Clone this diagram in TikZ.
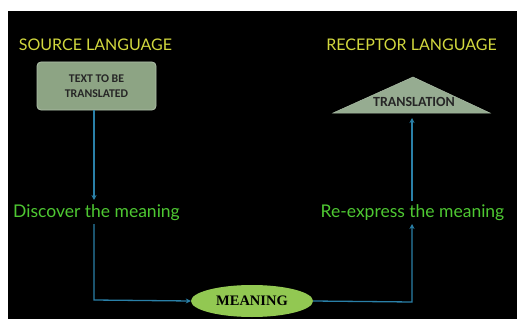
\documentclass[tikz,border=0pt]{standalone}
\usepackage{fontspec}
\setmainfont{Lato}
\newfontfamily\boxfont{Carlito}
\newfontfamily\serifb{Liberation Serif}
\usetikzlibrary{arrows.meta,shapes.geometric}
\definecolor{hdr}{RGB}{210,216,62}
\definecolor{grn}{RGB}{78,200,50}
\definecolor{boxfill}{RGB}{141,164,132}
\definecolor{trifill}{RGB}{150,172,145}
\definecolor{ellfill}{RGB}{146,200,82}
\definecolor{lnk}{RGB}{42,128,168}
\tikzset{
  header/.style={text=hdr,font=\fontsize{16}{18}\selectfont,inner sep=0pt},
  action/.style={text=grn,font=\fontsize{17.5}{20}\selectfont,inner sep=1pt},
  conn/.style={draw=lnk,line width=1.3pt},
  tip/.style={-{Stealth[length=5pt,width=5pt]}},
  boxtext/.style={font=\boxfont\bfseries\fontsize{11.8}{15}\selectfont,text=black!85},
}
\begin{document}
\begin{tikzpicture}[x=1pt,y=-1pt]
\useasboundingbox (0,0) rectangle (517,329);
\fill[black] (8,11) rectangle (517,319);
\node[header] (srchdr) at (95.5,45) {SOURCE LANGUAGE};
\node[header] (rechdr) at (411.5,45) {RECEPTOR LANGUAGE};
\node[draw=boxfill!70!white,fill=boxfill,rounded corners=4pt,line width=0.8pt,
      minimum width=119pt,minimum height=48pt,inner sep=0pt,align=center,boxtext]
      (src) at (96.5,86) {TEXT TO BE\\TRANSLATED};
\fill[trifill,draw=trifill!80!white,line width=0.5pt] (333,113) -- (413,77) -- (490,113) -- cycle;
\node[boxtext,font=\boxfont\bfseries\fontsize{14}{16}\selectfont,inner sep=0pt] (trans) at (414,102) {TRANSLATION};
\coordinate (tribase) at (412,118);
\node[action] (disc) at (96.5,213) {Discover the meaning};
\node[action] (reexp) at (412.5,213) {Re-express the meaning};
\node[ellipse,fill=ellfill,minimum width=122pt,minimum height=32pt,inner sep=0pt,
      font=\serifb\bfseries\fontsize{14.5}{16}\selectfont] (mean) at (252,301) {MEANING};
\coordinate (lc) at (94,300);
\coordinate (rc) at (412,302);
\draw[conn,tip] (94,110) -- (94,200);
\draw[conn,tip] (94,224) -- (lc) -- (mean.west);
\draw[conn,tip] (mean.east) -- (rc) -- (412,224);
\draw[conn,tip] (412,201) -- (tribase);
\end{tikzpicture}
\end{document}
